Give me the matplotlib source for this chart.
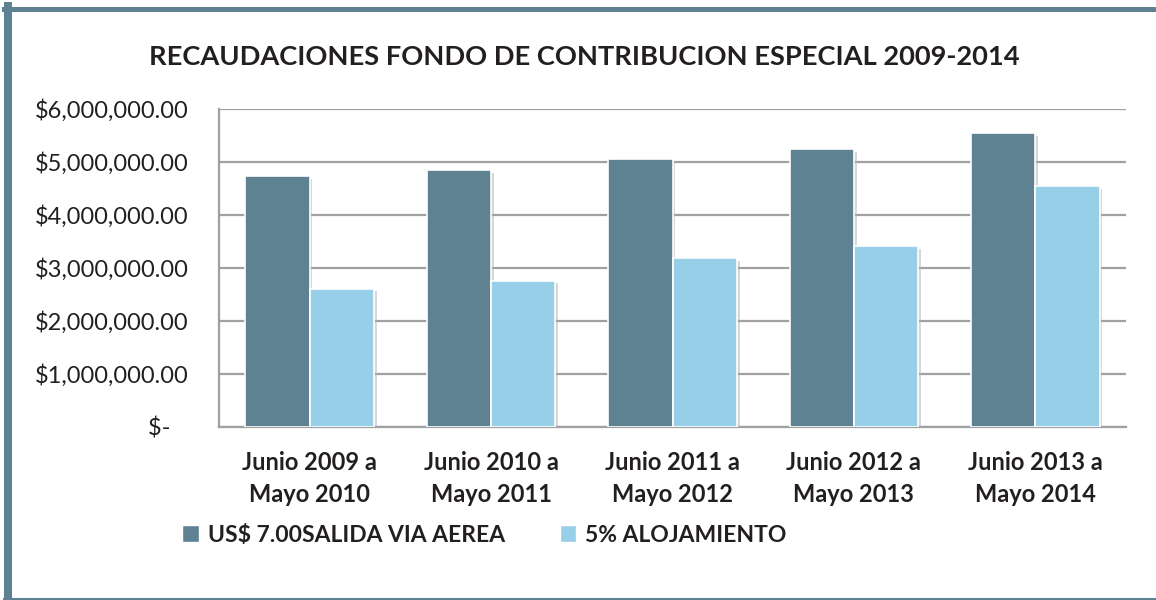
import matplotlib
matplotlib.use("Agg")
import matplotlib.pyplot as plt
import matplotlib.patheffects as pe
from matplotlib.lines import Line2D
from matplotlib.patches import Patch
import numpy as np

# data
periodos = ["Junio 2009 a\nMayo 2010", "Junio 2010 a\nMayo 2011", "Junio 2011 a\nMayo 2012",
            "Junio 2012 a\nMayo 2013", "Junio 2013 a\nMayo 2014"]
salida_aerea = [4730000, 4850000, 5050000, 5250000, 5540000]
alojamiento = [2610000, 2760000, 3180000, 3410000, 4540000]
series_names = ["US$ 7.00SALIDA VIA AEREA", "5% ALOJAMIENTO"]
y_ticks = [0, 1000000, 2000000, 3000000, 4000000, 5000000, 6000000]

dark = "#5F8292"
light = "#97CEE8"
grid_col = "#A0A0A2"
txt = "#231F20"

plt.rcParams['font.family'] = ['Lato', 'DejaVu Sans']

fig = plt.figure(figsize=(11.56, 6.0), dpi=100)
ax = fig.add_axes([219/1156, 173/600, 907/1156, 318/600])

x = np.arange(len(periodos))
w = 0.355
shadow = [pe.SimplePatchShadow(offset=(2, -2), shadow_rgbFace="#B0B0B0", alpha=0.5), pe.Normal()]
b1 = ax.bar(x - w/2, salida_aerea, width=w, color=dark, edgecolor="white", linewidth=1.2, zorder=3)
b2 = ax.bar(x + w/2, alojamiento, width=w, color=light, edgecolor="white", linewidth=1.2, zorder=3)
for b in list(b1) + list(b2):
    b.set_path_effects(shadow)

ax.set_xlim(-0.5, len(periodos) - 0.5)
ax.set_ylim(0, 6000000)
ax.set_yticks(y_ticks)
ax.set_yticklabels(["$-   "] + ["${:,.2f}".format(v) for v in y_ticks[1:]], fontsize=17, color=txt)
ax.set_xticks(x)
ax.set_xticklabels(periodos, fontsize=17, fontweight="bold", color=txt, linespacing=1.5)
ax.tick_params(axis="y", length=0, pad=22)
ax.tick_params(axis="x", length=0, pad=17)

ax.yaxis.grid(True, color=grid_col, linewidth=1.6, zorder=0)
for s in ["top", "right"]:
    ax.spines[s].set_visible(False)
for s in ["left", "bottom"]:
    ax.spines[s].set_color(grid_col)
    ax.spines[s].set_linewidth(1.6)

fig.text(0.5056, 0.905, "RECAUDACIONES FONDO DE CONTRIBUCION ESPECIAL 2009-2014",
         ha="center", va="center", fontsize=19.6, fontweight="bold", color=txt)

handles = [Patch(facecolor=dark, edgecolor="white"), Patch(facecolor=light, edgecolor="white")]
leg = fig.legend(handles, series_names, loc="center left", bbox_to_anchor=(171/1156, 1 - 535/600),
                 ncol=2, frameon=False, handlelength=0.7, handleheight=0.7, handletextpad=0.4,
                 columnspacing=2.4, borderpad=0, prop={"size": 16.5, "weight": "bold"})
for t in leg.get_texts():
    t.set_color(txt)

# outer frame of the chart object
border = "#5F8292"
fig.add_artist(Line2D([8/1156, 8/1156], [0, 1 - 6/600], color=border, linewidth=5.8, transform=fig.transFigure))
fig.add_artist(Line2D([4/1156, 1], [1 - 8.5/600, 1 - 8.5/600], color=border, linewidth=3.6, transform=fig.transFigure))
fig.add_artist(Line2D([4/1156, 1], [1.5/600, 1.5/600], color=border, linewidth=2.2, transform=fig.transFigure))

fig.savefig("out.png", dpi=100, facecolor="white")
